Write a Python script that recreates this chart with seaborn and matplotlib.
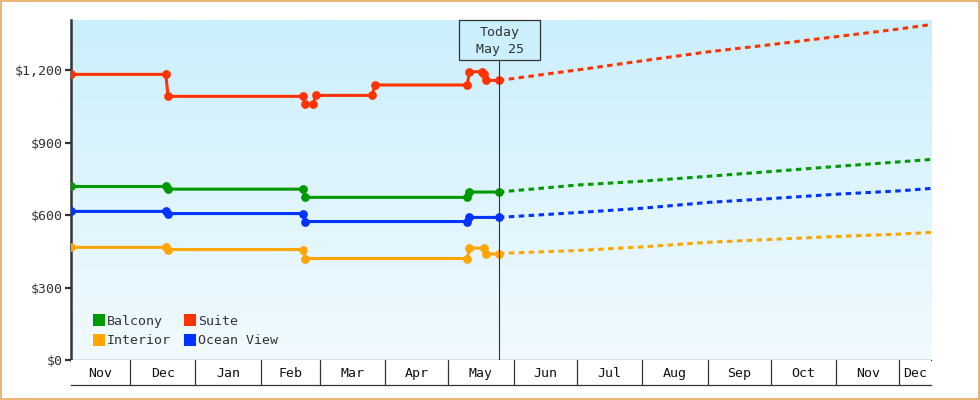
import numpy as np
import pandas as pd
import matplotlib
matplotlib.use("Agg")
import matplotlib.pyplot as plt
import matplotlib.dates as mdates
from matplotlib.lines import Line2D
from matplotlib.patches import Rectangle
import seaborn as sns

# --------- dados
start_date = "2018-11-03"
end_date = "2019-12-16"
today = "2019-05-25"

suite_dates = ["2018-11-03", "2018-12-18", "2018-12-19", "2019-02-21", "2019-02-22",
               "2019-02-26", "2019-02-27", "2019-03-26", "2019-03-27", "2019-05-10",
               "2019-05-11", "2019-05-17", "2019-05-18", "2019-05-19", "2019-05-25"]
suite_prices = [1182, 1182, 1091, 1091, 1058, 1058, 1095, 1095, 1138, 1138,
                1193, 1193, 1185, 1157, 1157]

balcony_dates = ["2018-11-03", "2018-12-18", "2018-12-19", "2019-02-21", "2019-02-22",
                 "2019-05-10", "2019-05-11", "2019-05-25"]
balcony_prices = [718, 718, 707, 707, 673, 673, 695, 695]

ocean_dates = balcony_dates
ocean_prices = [615, 615, 606, 606, 573, 573, 590, 590]

interior_dates = ["2018-11-03", "2018-12-18", "2018-12-19", "2019-02-21", "2019-02-22",
                  "2019-05-10", "2019-05-11", "2019-05-18", "2019-05-19", "2019-05-25"]
interior_prices = [466, 466, 457, 457, 420, 420, 463, 463, 439, 439]

# projeção (tracejado)
proj_dates = ["2019-05-25", "2019-07-01", "2019-08-01", "2019-09-01", "2019-10-01",
              "2019-11-01", "2019-12-01", "2019-12-16"]
suite_proj = [1157, 1200, 1238, 1275, 1305, 1338, 1370, 1388]
balcony_proj = [695, 724, 740, 760, 780, 801, 820, 830]
ocean_proj = [590, 610, 628, 652, 668, 686, 700, 710]
interior_proj = [441, 453, 468, 487, 499, 511, 521, 528]

series = ["Balcony", "Interior", "Suite", "Ocean View"]
colors = {"Balcony": "#009900", "Interior": "#FFA500",
          "Suite": "#FF3300", "Ocean View": "#0033FF"}
yticks = [0, 300, 600, 900, 1200]

hist = pd.concat([
    pd.DataFrame({"date": pd.to_datetime(d), "price": p, "cabin": n})
    for n, d, p in [("Balcony", balcony_dates, balcony_prices),
                    ("Interior", interior_dates, interior_prices),
                    ("Suite", suite_dates, suite_prices),
                    ("Ocean View", ocean_dates, ocean_prices)]
])
proj = pd.concat([
    pd.DataFrame({"date": pd.to_datetime(proj_dates), "price": p, "cabin": n})
    for n, p in [("Balcony", balcony_proj), ("Interior", interior_proj),
                 ("Suite", suite_proj), ("Ocean View", ocean_proj)]
])

# --------- estilo
sns.set_theme(style="white")
plt.rcParams["font.family"] = ["DejaVu Sans Mono", "DejaVu Sans"]
text_color = "#333333"
bg_top, bg_bottom = "#CBEFFC", "#F1FAFF"

fig = plt.figure(figsize=(9.8, 4.0), dpi=100)
ax = fig.add_axes([71 / 980, 40 / 400, 860 / 980, 340 / 400])
ax_lab = fig.add_axes([71 / 980, 15 / 400, 860 / 980, 25 / 400], sharex=ax)

x0 = mdates.date2num(pd.Timestamp(start_date))
x1 = mdates.date2num(pd.Timestamp(end_date))
ax.set_xlim(x0, x1)
ax.set_ylim(0, 1407)

# fundo em degradê
grad = np.linspace(0, 1, 256).reshape(-1, 1)
cmap = matplotlib.colors.LinearSegmentedColormap.from_list("bg", [bg_bottom, bg_top])
ax.imshow(grad, aspect="auto", cmap=cmap, origin="lower",
          extent=[0, 1, 0, 1], transform=ax.transAxes, zorder=0)

sns.lineplot(data=proj, x="date", y="price", hue="cabin", hue_order=series,
             palette=colors, estimator=None, sort=False, ax=ax, legend=False,
             linewidth=2.2, dashes=False, zorder=2)
for line in ax.get_lines():
    line.set_linestyle((0, (1.8, 1.45)))

sns.lineplot(data=hist, x="date", y="price", hue="cabin", hue_order=series,
             palette=colors, estimator=None, sort=False, ax=ax, legend=False,
             linewidth=2.2, marker="o", markersize=6.3, markeredgewidth=0, zorder=3)

# linha de hoje + caixa
tx = mdates.date2num(pd.Timestamp(today))
xt = ax.get_xaxis_transform()
ax.plot([tx, tx], [0, 1], transform=xt, color=text_color, lw=0.8,
        zorder=4, clip_on=False)
ax.add_patch(Rectangle((tx - 19, 1 - 40 / 340), 38.4, 40 / 340, transform=xt,
                       fc=bg_top, ec=text_color, lw=0.9, zorder=5, clip_on=False))
ax.text(tx + 0.3, 1 - 21 / 340, "Today\nMay 25", transform=xt,
        ha="center", va="center", fontsize=9.5, color=text_color,
        linespacing=1.4, zorder=6)

# eixos
ax.set_yticks(yticks)
ax.set_yticklabels([f"${v:,}" for v in yticks])
ax.tick_params(axis="y", direction="out", length=4, width=1.6, color=text_color,
               labelcolor=text_color, labelsize=9.5, pad=2, left=True)
ax.tick_params(axis="x", bottom=False, labelbottom=False)
ax.set_xlabel("")
ax.set_ylabel("")
for s in ["top", "right"]:
    ax.spines[s].set_visible(False)
ax.spines["left"].set_linewidth(1.8)
ax.spines["left"].set_color(text_color)
ax.spines["bottom"].set_linewidth(0.9)
ax.spines["bottom"].set_color(text_color)

# faixa de meses
months = pd.date_range("2018-11-01", "2020-01-01", freq="MS")
bounds = [max(min(mdates.date2num(m), x1), x0) for m in months]
for b in bounds[1:-1]:
    ax_lab.axvline(b, color=text_color, lw=0.9)
for a, b, m in zip(bounds[:-1], bounds[1:], months[:-1]):
    ax_lab.text((a + b) / 2, 0.45, m.strftime("%b"), ha="center", va="center",
                fontsize=9.5, color="#111111")
ax_lab.set_ylim(0, 1)
ax_lab.set_facecolor("white")
ax_lab.set_xticks([])
ax_lab.set_yticks([])
for s in ["top", "left", "right"]:
    ax_lab.spines[s].set_visible(False)
ax_lab.spines["bottom"].set_linewidth(0.9)
ax_lab.spines["bottom"].set_color(text_color)

# legenda
handles = [Line2D([], [], linestyle="none", marker="s", markersize=8,
                  markerfacecolor=colors[n], markeredgewidth=0, label=n) for n in series]
ax.legend(handles=handles, ncol=2, loc="lower left", bbox_to_anchor=(16 / 860, 6 / 340),
          borderpad=0, frameon=False, fontsize=9.5, handlelength=0.8, handletextpad=0.2,
          columnspacing=1.05, labelspacing=0.5, labelcolor=text_color)

# borda externa
fig.patches.append(Rectangle((0.001, 0.002), 0.998, 0.996, transform=fig.transFigure,
                             fill=False, ec="#E8A860", lw=1.2))

fig.savefig("out.png", dpi=100)
